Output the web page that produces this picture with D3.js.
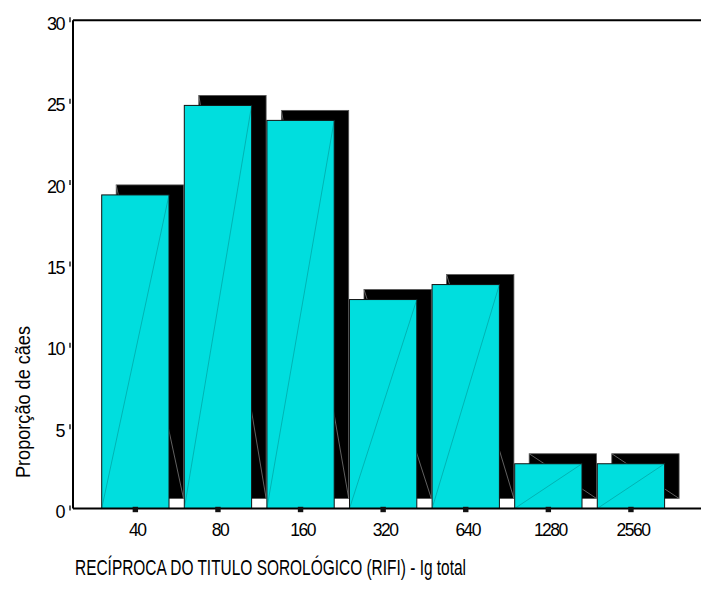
<!DOCTYPE html>
<html>
<head>
<meta charset="utf-8">
<script src="https://cdn.jsdelivr.net/npm/d3@7"></script>
<style>
  html, body { margin: 0; padding: 0; background: #fff; }
  svg { display: block; font-family: "Liberation Sans", Arial, sans-serif; }
</style>
</head>
<body>
<svg id="chart" width="701" height="595"></svg>
<script>
// Titer categories (reciprocal of the serological titer)
const categories = ["40", "80", "160", "320", "640", "1280", "2560"];
// Percentage of dogs in each titer class
const values = [19.27, 24.77, 23.85, 12.84, 13.76, 2.75, 2.75];
// Y axis tick values
const yTicks = [0, 5, 10, 15, 20, 25, 30];

const xTitle = "RECÍPROCA  DO TITULO SOROLÓGICO (RIFI) - Ig total";
const yTitle = "Proporção de cães";

const svg = d3.select("#chart");

const plot = { left: 73, top: 20.3, bottom: 508.5, right: 701 };

const x = d3.scaleBand()
  .domain(categories)
  .range([101.7, 664.6])
  .paddingInner(0.185)
  .paddingOuter(0);

const y = d3.scaleLinear()
  .domain([0, 30])
  .range([plot.bottom, plot.top]);

// depth offset of the extruded back face
const dx = 14.5, dy = -10;
const front = "#00DEDE";

const data = categories.map((c, i) => ({ c, v: values[i] }));

// back faces (black extrusion)
const back = svg.append("g").attr("class", "back");
back.selectAll("rect")
  .data(data)
  .join("rect")
  .attr("x", d => x(d.c) + dx)
  .attr("y", d => y(d.v) + dy)
  .attr("width", x.bandwidth())
  .attr("height", d => y(0) - y(d.v))
  .attr("fill", "#000")
  .attr("stroke", "#555")
  .attr("stroke-width", 0.8);

// facet edge on back face
back.selectAll("line")
  .data(data)
  .join("line")
  .attr("x1", d => x(d.c) + dx)
  .attr("y1", d => y(d.v) + dy)
  .attr("x2", d => x(d.c) + dx + x.bandwidth())
  .attr("y2", d => y(0) + dy)
  .attr("stroke", "#8a8a8a")
  .attr("stroke-width", 0.7);

// front faces
const fr = svg.append("g").attr("class", "front");
fr.selectAll("rect")
  .data(data)
  .join("rect")
  .attr("x", d => x(d.c))
  .attr("y", d => y(d.v))
  .attr("width", x.bandwidth())
  .attr("height", d => y(0) - y(d.v))
  .attr("fill", front)
  .attr("stroke", "#111")
  .attr("stroke-width", 1);

// facet edge on front face
fr.selectAll("line")
  .data(data)
  .join("line")
  .attr("x1", d => x(d.c))
  .attr("y1", d => y(0))
  .attr("x2", d => x(d.c) + x.bandwidth())
  .attr("y2", d => y(d.v))
  .attr("stroke", "rgba(0,110,110,0.55)")
  .attr("stroke-width", 0.7);

// frame: left, top and bottom lines
const frame = svg.append("g").attr("stroke", "#000").attr("stroke-width", 2);
frame.append("line").attr("x1", plot.left).attr("x2", plot.left).attr("y1", plot.top).attr("y2", plot.bottom);
frame.append("line").attr("x1", plot.left).attr("x2", plot.right).attr("y1", plot.top).attr("y2", plot.top);
frame.append("line").attr("x1", plot.left).attr("x2", plot.right).attr("y1", plot.bottom).attr("y2", plot.bottom);

// y axis ticks and labels
const yAxis = svg.append("g");
yAxis.selectAll("line")
  .data(yTicks)
  .join("line")
  .attr("x1", 70).attr("x2", 70)
  .attr("y1", d => y(d) - 3).attr("y2", d => y(d) + 2)
  .attr("stroke", "#000").attr("stroke-width", 1.3);
yAxis.selectAll("text")
  .data(yTicks)
  .join("text")
  .attr("x", 64)
  .attr("y", d => y(d) + 9.5)
  .attr("text-anchor", "end")
  .attr("font-size", 18)
  .attr("letter-spacing", -1.5)
  .text(d => d);

// x axis tick markers and labels
const xAxis = svg.append("g");
xAxis.selectAll("rect")
  .data(categories)
  .join("rect")
  .attr("x", d => x(d) + x.bandwidth() / 2 - 2.7)
  .attr("y", 506.8)
  .attr("width", 5.4)
  .attr("height", 5.4)
  .attr("fill", "#111");
xAxis.selectAll("text")
  .data(categories)
  .join("text")
  .attr("x", d => x(d) + x.bandwidth() / 2 + 2)
  .attr("y", 535.5)
  .attr("text-anchor", "middle")
  .attr("font-size", 17.5)
  .attr("letter-spacing", -1.5)
  .text(d => d);

// axis titles
svg.append("text")
  .attr("x", 75)
  .attr("y", 575)
  .attr("font-size", 22)
  .attr("textLength", 391)
  .attr("lengthAdjust", "spacingAndGlyphs")
  .text(xTitle);

svg.append("text")
  .attr("transform", "translate(30,478) rotate(-90)")
  .attr("font-size", 21)
  .attr("textLength", 152)
  .attr("lengthAdjust", "spacingAndGlyphs")
  .text(yTitle);
</script>
</body>
</html>
